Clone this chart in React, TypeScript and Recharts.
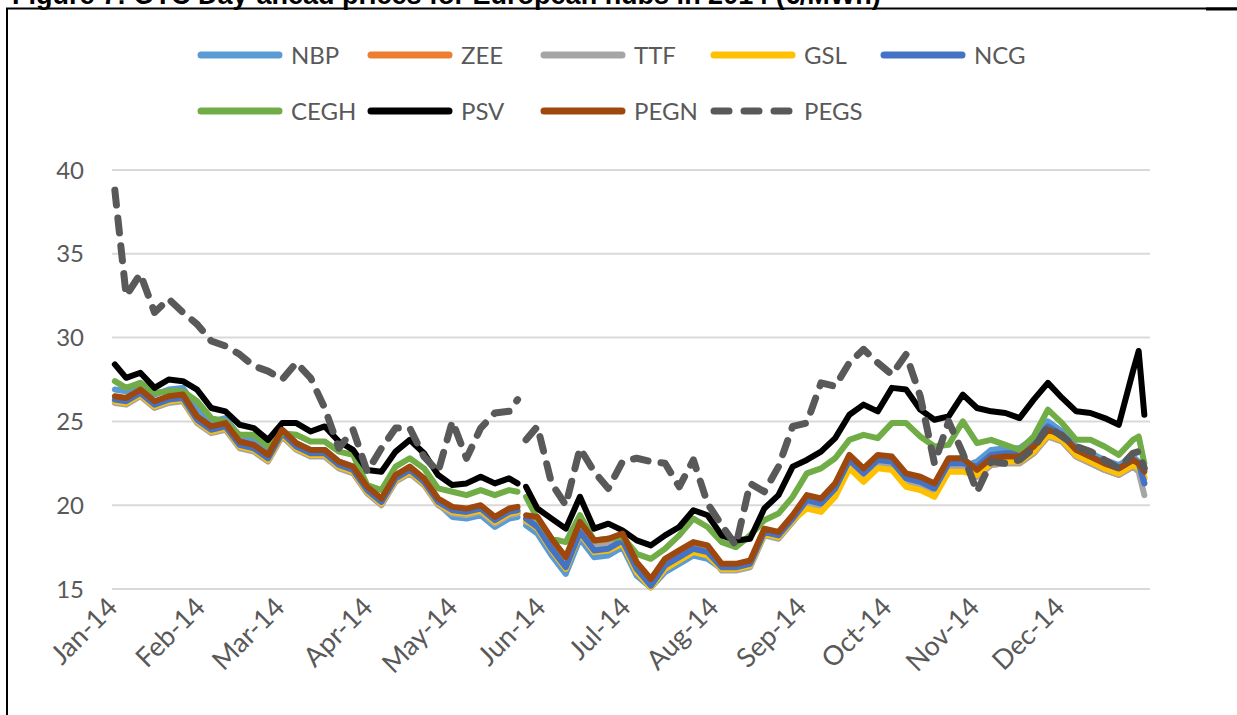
import React from "react";
import { LineChart, Line, XAxis, YAxis, CartesianGrid } from "recharts";

// trading days (day of year, 0 = 1 Jan 2014); 145 is the late-May gap
const days = [
  1, 5, 10, 15, 20, 25, 30,
  35, 40, 45, 50, 55,
  60, 65, 70, 75, 80, 85,
  90, 95, 100, 105, 110, 115,
  120, 125, 130, 135, 140, 143, 145, 146,
  150, 155, 160, 165, 170, 175,
  180, 185, 190, 195, 200, 205, 210,
  215, 220, 225, 230, 235, 240,
  245, 250, 255, 260, 265, 270,
  275, 280, 285, 290, 295, 300,
  305, 310, 315, 320, 325, 330,
  335, 340, 345, 350, 355, 360, 362, 364,
];

const NBP = [
  26.9, 26.8, 27.3, 26.6, 26.9, 27.0, 25.7,
  25.0, 25.2, 24.1, 23.9, 23.3,
  24.5, 23.7, 23.3, 23.3, 22.6, 22.3,
  20.8, 20.1, 21.5, 22.0, 21.3, 20.1,
  19.3, 19.2, 19.4, 18.7, 19.2, 19.3, null, 18.8,
  18.3, 17.0, 15.9, 18.0, 16.9, 17.0,
  17.5, 15.8, 15.1, 16.0, 16.5, 17.0, 16.8,
  16.2, 16.2, 16.4, 18.3, 18.1, 19.1,
  20.2, 20.0, 20.9, 22.6, 21.8, 22.6,
  22.4, 21.4, 21.2, 20.8, 22.3, 22.3,
  22.6, 23.3, 23.4, 23.4, 24.0, 25.0,
  24.4, 23.5, 23.1, 22.7, 22.4, 22.9, 22.6, 21.3,
];

const ZEE = [
  26.2, 26.1, 26.6, 25.9, 26.2, 26.3, 25.0,
  24.4, 24.6, 23.5, 23.3, 22.7,
  24.2, 23.4, 23.0, 23.0, 22.3, 22.0,
  20.8, 20.1, 21.5, 22.0, 21.3, 20.1,
  19.6, 19.5, 19.7, 19.0, 19.5, 19.6, null, 19.1,
  19.0, 17.7, 16.6, 18.7, 17.6, 17.7,
  18.0, 16.3, 15.3, 16.5, 17.0, 17.5, 17.3,
  16.2, 16.2, 16.4, 18.3, 18.1, 19.1,
  19.9, 19.7, 20.6, 22.3, 21.5, 22.3,
  22.2, 21.2, 21.0, 20.6, 22.1, 22.1,
  21.7, 22.4, 22.5, 22.5, 23.1, 24.1,
  23.8, 22.9, 22.5, 22.1, 21.8, 22.3, 22.1, 21.6,
];

const TTF = [
  26.1, 26.0, 26.5, 25.8, 26.1, 26.2, 24.9,
  24.3, 24.5, 23.4, 23.2, 22.6,
  24.1, 23.3, 22.9, 22.9, 22.2, 21.9,
  20.7, 20.0, 21.4, 21.9, 21.2, 20.0,
  19.5, 19.4, 19.6, 18.9, 19.4, 19.5, null, 19.0,
  18.9, 17.6, 16.5, 18.6, 17.5, 17.6,
  17.9, 16.2, 15.2, 16.4, 16.9, 17.4, 17.2,
  16.1, 16.1, 16.3, 18.2, 18.0, 19.0,
  20.0, 19.8, 20.7, 22.4, 21.6, 22.4,
  22.3, 21.3, 21.1, 20.7, 22.2, 22.2,
  21.7, 22.4, 22.5, 22.5, 23.1, 24.1,
  23.8, 22.9, 22.5, 22.1, 21.8, 22.3, 22.0, 20.6,
];

const GSL = [
  26.2, 26.1, 26.6, 25.9, 26.2, 26.3, 25.0,
  24.4, 24.6, 23.5, 23.3, 22.7,
  24.2, 23.4, 23.0, 23.0, 22.3, 22.0,
  20.8, 20.1, 21.5, 22.0, 21.3, 20.1,
  19.6, 19.5, 19.7, 19.0, 19.5, 19.6, null, 19.1,
  18.6, 17.3, 16.2, 18.3, 17.2, 17.3,
  17.7, 16.0, 15.1, 16.2, 16.7, 17.2, 17.0,
  16.2, 16.2, 16.4, 18.3, 18.1, 19.1,
  19.8, 19.6, 20.5, 22.2, 21.4, 22.2,
  22.1, 21.1, 20.9, 20.5, 22.0, 22.0,
  21.8, 22.5, 22.6, 22.6, 23.2, 24.2,
  23.9, 23.0, 22.6, 22.2, 21.9, 22.4, 22.2, 21.7,
];

const NCG = [
  26.3, 26.2, 26.7, 26.0, 26.3, 26.4, 25.1,
  24.5, 24.7, 23.6, 23.4, 22.8,
  24.3, 23.5, 23.1, 23.1, 22.4, 22.1,
  20.9, 20.2, 21.6, 22.1, 21.4, 20.2,
  19.7, 19.6, 19.8, 19.1, 19.6, 19.7, null, 19.2,
  18.7, 17.4, 16.3, 18.4, 17.3, 17.4,
  17.9, 16.2, 15.2, 16.4, 16.9, 17.4, 17.2,
  16.3, 16.3, 16.5, 18.4, 18.2, 19.2,
  20.3, 20.1, 21.0, 22.7, 21.9, 22.7,
  22.6, 21.6, 21.4, 21.0, 22.5, 22.5,
  22.3, 23.0, 23.1, 23.1, 23.7, 24.7,
  24.2, 23.3, 22.9, 22.5, 22.2, 22.7, 22.5, 21.3,
];

const CEGH = [
  27.4, 27.0, 27.3, 26.7, 26.8, 26.8, 26.2,
  25.2, 25.0, 24.2, 24.2, 23.5,
  24.3, 24.2, 23.8, 23.8, 23.2, 23.0,
  21.2, 20.9, 22.3, 22.8, 22.2, 21.0,
  20.8, 20.6, 20.9, 20.6, 20.9, 20.8, null, 20.5,
  19.2, 18.0, 17.8, 19.4, 17.9, 18.0,
  18.1, 17.1, 16.8, 17.4, 18.2, 19.2, 18.7,
  17.8, 17.5, 18.2, 19.1, 19.5, 20.5,
  21.9, 22.2, 22.8, 23.9, 24.2, 24.0,
  24.9, 24.9, 24.1, 23.5, 23.6, 25.0,
  23.7, 23.9, 23.6, 23.3, 24.1, 25.7,
  24.9, 23.9, 23.9, 23.5, 23.0, 23.9, 24.1, 22.5,
];

const PSV = [
  28.4, 27.6, 27.9, 27.0, 27.5, 27.4, 26.9,
  25.8, 25.6, 24.8, 24.6, 23.9,
  24.9, 24.9, 24.4, 24.7, 23.8, 23.3,
  22.1, 22.0, 23.2, 23.9, 23.1, 21.8,
  21.2, 21.3, 21.7, 21.3, 21.6, 21.3, null, 21.1,
  19.8, 19.2, 18.6, 20.5, 18.6, 18.9,
  18.5, 17.9, 17.6, 18.2, 18.7, 19.7, 19.4,
  18.2, 17.9, 18.0, 19.8, 20.6, 22.3,
  22.7, 23.2, 24.0, 25.4, 26.0, 25.6,
  27.0, 26.9, 25.7, 25.1, 25.3, 26.6,
  25.8, 25.6, 25.5, 25.2, 26.3, 27.3,
  26.4, 25.6, 25.5, 25.2, 24.8, 28.0, 29.2, 25.4,
];

const PEGN = [
  26.5, 26.4, 26.9, 26.2, 26.5, 26.6, 25.3,
  24.7, 24.9, 23.8, 23.6, 23.0,
  24.5, 23.7, 23.3, 23.3, 22.6, 22.3,
  21.1, 20.4, 21.8, 22.3, 21.6, 20.4,
  19.9, 19.8, 20.0, 19.3, 19.8, 19.9, null, 19.4,
  19.3, 18.0, 16.9, 19.0, 17.9, 18.0,
  18.3, 16.6, 15.6, 16.8, 17.3, 17.8, 17.6,
  16.5, 16.5, 16.7, 18.6, 18.4, 19.4,
  20.6, 20.4, 21.3, 23.0, 22.2, 23.0,
  22.9, 21.9, 21.7, 21.3, 22.8, 22.8,
  22.1, 22.8, 22.9, 22.9, 23.5, 24.5,
  24.2, 23.3, 22.9, 22.5, 22.2, 22.7, 22.5, 22.0,
];

const PEGS = [
  38.8, 32.5, 33.8, 31.5, 32.3, 31.5, 30.8,
  29.8, 29.5, 29.0, 28.3, 28.0,
  27.5, 28.5, 27.6, 25.8, 23.4, 24.5,
  22.0, 23.4, 24.6, 24.6, 22.9, 22.0,
  25.0, 22.8, 24.6, 25.5, 25.6, 26.3, null, 23.9,
  24.7, 21.3, 20.0, 23.4, 22.0, 21.0,
  22.6, 22.8, 22.6, 22.5, 21.1, 22.7, 20.1,
  18.8, 17.6, 21.3, 20.8, 22.3, 24.7,
  24.9, 27.3, 27.1, 28.5, 29.3, 28.5,
  27.8, 29.0, 26.5, 22.5, 25.0, 23.1,
  20.8, 22.6, 22.5, 22.7, 23.4, 24.7,
  24.1, 23.5, 23.2, 22.7, 22.2, 23.1, 23.2, 22.2,
];

const monthTicks = [0, 31, 59, 90, 120, 151, 181, 212, 243, 273, 304, 334];
const monthLabels = [
  "Jan-14", "Feb-14", "Mar-14", "Apr-14", "May-14", "Jun-14",
  "Jul-14", "Aug-14", "Sep-14", "Oct-14", "Nov-14", "Dec-14",
];
const yTicks = [15, 20, 25, 30, 35, 40];

const series = [
  { key: "NBP", color: "#5B9BD5", values: NBP },
  { key: "ZEE", color: "#ED7D31", values: ZEE },
  { key: "TTF", color: "#A5A5A5", values: TTF },
  { key: "GSL", color: "#FFC000", values: GSL },
  { key: "NCG", color: "#4472C4", values: NCG },
  { key: "CEGH", color: "#70AD47", values: CEGH },
  { key: "PSV", color: "#000000", values: PSV },
  { key: "PEGN", color: "#9E480E", values: PEGN },
  { key: "PEGS", color: "#595959", values: PEGS, dashed: true },
];

const data = days.map((d, i) => {
  const row: Record<string, number | null> = { day: d };
  series.forEach((s) => {
    row[s.key] = s.values[i];
  });
  return row;
});

const FONT = "Lato, 'Open Sans', sans-serif";
const TXT = "#595959";

function MonthTick(props: any) {
  const { x, y, payload } = props;
  const i = monthTicks.indexOf(payload.value);
  const ax = x + 7;
  const ay = y + 12;
  return (
    <text
      x={ax}
      y={ay}
      transform={`rotate(-45 ${ax} ${ay})`}
      textAnchor="end"
      fill={TXT}
      fontSize={27}
      fontFamily={FONT}
    >
      {monthLabels[i]}
    </text>
  );
}

const legendCols = [197, 367, 540, 710, 880];
const legendRows = [55, 111];

export default function App() {
  return (
    <div
      style={{
        position: "absolute",
        left: 0,
        top: 0,
        width: 1237,
        height: 715,
        background: "#fff",
        overflow: "hidden",
      }}
    >
      <LineChart
        width={1237}
        height={715}
        data={data}
        margin={{ top: 170, right: 87, bottom: 0, left: 0 }}
        style={{ position: "absolute", left: 0, top: 0 }}
      >
        <CartesianGrid vertical={false} stroke="#D9D9D9" strokeWidth={2} />
        <XAxis
          dataKey="day"
          type="number"
          domain={[0, 366]}
          ticks={monthTicks}
          interval={0}
          height={126}
          axisLine={false}
          tickLine={false}
          tick={<MonthTick />}
        />
        <YAxis
          domain={[15, 40]}
          ticks={yTicks}
          width={112}
          axisLine={false}
          tickLine={false}
          tickMargin={22}
          tick={{ fill: TXT, fontSize: 24, fontFamily: FONT }}
        />
        {series.map((s) => (
          <Line
            key={s.key}
            type="linear"
            dataKey={s.key}
            stroke={s.color}
            strokeWidth={s.dashed ? 7 : 6}
            strokeDasharray={s.dashed ? "15 13" : undefined}
            strokeLinecap="round"
            strokeLinejoin="round"
            dot={false}
            activeDot={false}
            connectNulls={false}
            isAnimationActive={false}
          />
        ))}
      </LineChart>

      <svg
        width={1237}
        height={715}
        style={{ position: "absolute", left: 0, top: 0, pointerEvents: "none" }}
      >
        <text
          x={12}
          y={4}
          fontFamily="'Liberation Sans', Arial, sans-serif"
          fontWeight="bold"
          fontSize={27}
          fill="#000"
        >
          Figure 7: OTC Day-ahead prices for European hubs in 2014 (€/MWh)
        </text>
        <line x1={6} y1={8.5} x2={1237} y2={8.5} stroke="#000" strokeWidth={2} />
        <line x1={1206} y1={9} x2={1237} y2={9} stroke="#000" strokeWidth={3} />
        <line x1={7} y1={8} x2={7} y2={715} stroke="#000" strokeWidth={2} />
        {series.map((s, i) => {
          const cx = legendCols[i % 5];
          const cy = legendRows[Math.floor(i / 5)];
          return (
            <g key={s.key}>
              <line
                x1={cx + 4}
                y1={cy}
                x2={cx + 82}
                y2={cy}
                stroke={s.color}
                strokeWidth={7}
                strokeLinecap="round"
                strokeDasharray={s.dashed ? "15 15" : undefined}
              />
              <text
                x={cx + 94}
                y={cy + 9}
                fill={TXT}
                fontSize={24}
                fontFamily={FONT}
              >
                {s.key}
              </text>
            </g>
          );
        })}
      </svg>
    </div>
  );
}
